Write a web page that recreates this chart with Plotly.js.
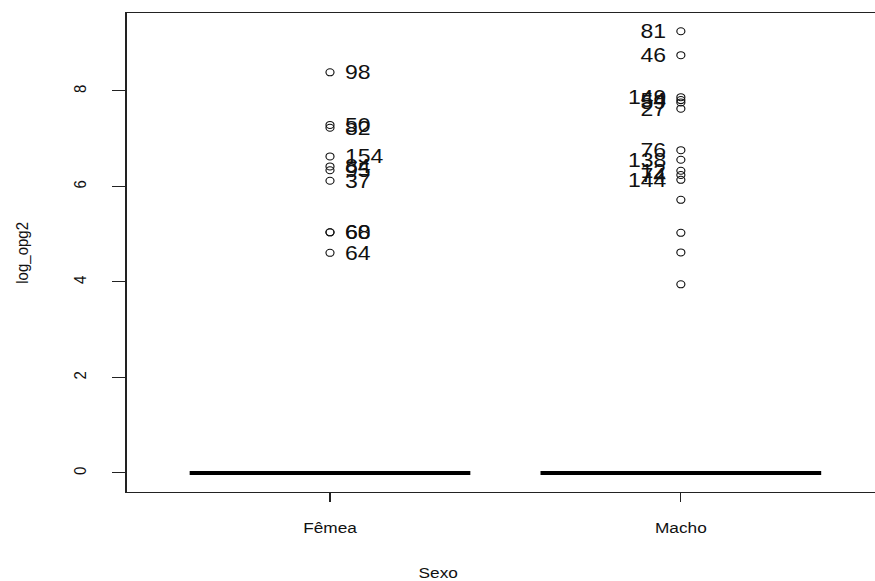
<!DOCTYPE html>
<html>
<head>
<meta charset="utf-8">
<script src="https://cdn.plot.ly/plotly-3.0.1.min.js"></script>
<style>
  html, body { margin: 0; padding: 0; background: #fff; overflow: hidden; width: 875px; height: 581px; }
  #chart { transform-origin: 0 0; }
</style>
</head>
<body>
<div id="chart"></div>
<script>
// Groups on the x axis
const categories = ['Fêmea', 'Macho'];
const categoryPos = [1, 2];

// Box statistics of log_opg2 per group (most animals have zero counts)
const q1Values = [0, 0];
const medianValues = [0, 0];
const q3Values = [0, 0];
const lowerFence = [0, 0];
const upperFence = [0, 0];

// Outlying observations and their row labels
const femeaOutliers = [8.39, 7.29, 7.23, 6.63, 6.42, 6.34, 6.12, 5.04, 5.04, 4.61];
const femeaLabels   = ['98', '50', '82', '154', '84', '95', '37', '60', '68', '64'];
const machoOutliers = [9.25, 8.75, 7.87, 7.81, 7.76, 7.63, 6.76, 6.56, 6.33, 6.24, 6.14, 5.72, 5.03, 4.62, 3.95];
const machoLabels   = ['81', '46', '149', '54', '59', '27', '76', '138', '12', '74', '144', '', '', '', ''];

const yTicks = [0, 2, 4, 6, 8];

// The drawing is stretched horizontally, like a device resized on screen
const S = 1.15;
const W = 775, H = 581;
const ml = 126 / S, mr = W - 884 / S, mt = 13, mb = 89;
const plotW = W - ml - mr, plotH = H - mt - mb;
const paperX = px => (px / S - ml) / plotW;
const paperY = py => (H - mb - py) / plotH;

const FONT = 'Liberation Sans, Arial, sans-serif';
const INK = '#111';

const traces = [
  {
    type: 'box',
    x: categoryPos,
    q1: q1Values,
    median: medianValues,
    q3: q3Values,
    lowerfence: lowerFence,
    upperfence: upperFence,
    width: 0.8,
    whiskerwidth: 0.5,
    boxpoints: false,
    fillcolor: 'rgba(0,0,0,0)',
    line: { color: '#000', width: 4 },
    hoverinfo: 'skip',
    showlegend: false
  },
  {
    type: 'scatter',
    mode: 'markers',
    x: femeaOutliers.map(() => categoryPos[0]),
    y: femeaOutliers,
    marker: { symbol: 'circle-open', size: 7, color: '#111', line: { width: 1 } },
    hoverinfo: 'skip',
    showlegend: false
  },
  {
    type: 'scatter',
    mode: 'markers',
    x: machoOutliers.map(() => categoryPos[1]),
    y: machoOutliers,
    marker: { symbol: 'circle-open', size: 7, color: '#111', line: { width: 1 } },
    hoverinfo: 'skip',
    showlegend: false
  }
];

const annotations = [];
femeaOutliers.forEach((v, i) => {
  if (!femeaLabels[i]) return;
  annotations.push({
    x: categoryPos[0], y: v, xref: 'x', yref: 'y',
    text: femeaLabels[i], showarrow: false,
    xanchor: 'left', yanchor: 'middle', xshift: 11.5,
    font: { family: FONT, size: 20, color: INK }
  });
});
machoOutliers.forEach((v, i) => {
  if (!machoLabels[i]) return;
  annotations.push({
    x: categoryPos[1], y: v, xref: 'x', yref: 'y',
    text: machoLabels[i], showarrow: false,
    xanchor: 'right', yanchor: 'middle', xshift: -11.5,
    font: { family: FONT, size: 20, color: INK }
  });
});
annotations.push({
  xref: 'paper', yref: 'paper', x: paperX(438), y: paperY(572),
  text: 'Sexo', showarrow: false, xanchor: 'center', yanchor: 'middle',
  font: { family: FONT, size: 15, color: INK }
});
annotations.push({
  xref: 'paper', yref: 'paper', x: paperX(21), y: paperY(253),
  text: 'log_opg2', showarrow: false, textangle: -90, xanchor: 'center', yanchor: 'middle',
  font: { family: FONT, size: 15, color: INK }
});

const layout = {
  width: W, height: H,
  margin: { l: ml, r: mr, t: mt, b: mb, pad: 0 },
  paper_bgcolor: '#fff', plot_bgcolor: '#fff',
  showlegend: false,
  xaxis: {
    range: [0.42, 2.58],
    tickvals: categoryPos, ticktext: categories,
    ticks: 'outside', ticklen: 9, tickwidth: 1, tickcolor: '#222',
    ticklabelstandoff: 13,
    showline: true, mirror: true, linecolor: '#222', linewidth: 1,
    showgrid: false, zeroline: false,
    tickfont: { family: FONT, size: 15, color: INK }
  },
  yaxis: {
    range: [-0.398, 9.633],
    tickvals: yTicks, ticktext: yTicks.map(String),
    tickangle: -90,
    ticks: 'outside', ticklen: 12, tickwidth: 1, tickcolor: '#222',
    ticklabelstandoff: 16,
    showline: true, mirror: true, linecolor: '#222', linewidth: 1,
    showgrid: false, zeroline: false,
    tickfont: { family: FONT, size: 15, color: INK }
  },
  annotations: annotations
};

const el = document.getElementById('chart');
el.style.transform = 'scaleX(' + S + ')';
Plotly.newPlot(el, traces, layout, { staticPlot: true, displayModeBar: false });
</script>
</body>
</html>
